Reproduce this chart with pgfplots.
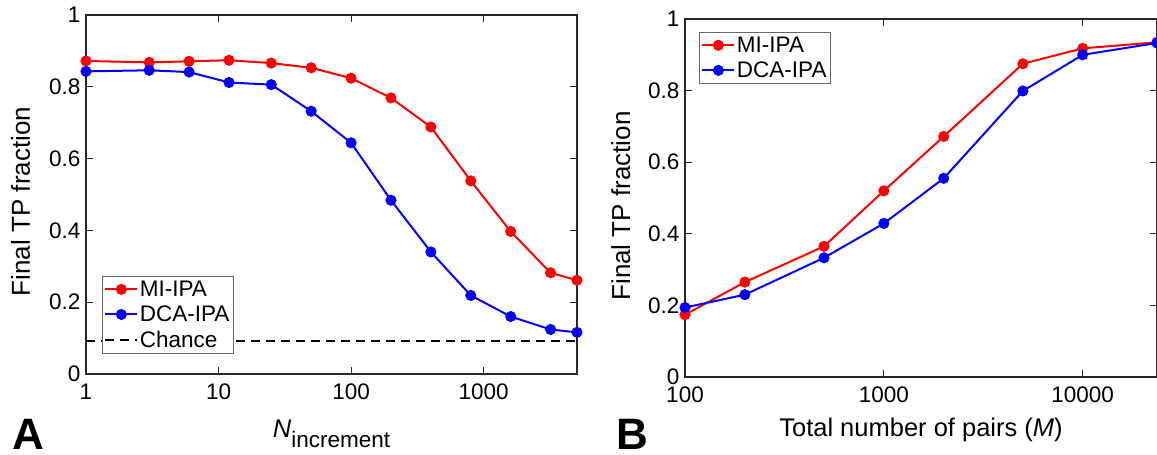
\documentclass[border=0pt]{standalone}
\usepackage{fontspec}
\setmainfont{Liberation Sans}
\usepackage{pgfplots}
\pgfplotsset{compat=1.18}
\newcommand{\tf}{\fontsize{22.5}{26}\selectfont}
\newcommand{\lf}{\fontsize{25.5}{30}\selectfont}
\newcommand{\yf}{\fontsize{26}{30}\selectfont}
\pgfplotsset{
  tpstyle/.style={
    scale only axis, ymin=0, ymax=1,
    axis line style={black!85, line width=1.1pt},
    every tick/.style={black!85, line width=1pt},
    tick align=inside, major tick length=7pt,
    xminorticks=false, yminorticks=false,
    xtick pos=both, ytick pos=both,
    ytick={0,0.2,0.4,0.6,0.8,1}, yticklabels={0,0.2,0.4,0.6,0.8,1},
    ticklabel style={font=\tf, text=black},
    yticklabel style={xshift=-2pt},
    xticklabel style={yshift=-6pt},
    clip=false,
    legend cell align=left,
    legend style={font=\tf, draw=black!60, line width=0.8pt, fill=white,
      inner xsep=2pt, inner ysep=3pt, row sep=5pt,
      nodes={inner sep=1.5pt}},
    legend image code/.code={\draw[mark repeat=2,mark phase=2,##1] plot coordinates {(0pt,0pt) (16pt,0pt) (32pt,0pt)};},
    every axis y label/.style={at={(axis description cs:0,0.5)}, anchor=base, font=\yf},
    every axis x label/.style={at={(axis description cs:0.5,0)}, anchor=base, font=\lf},
  },
  mi/.style={red, line width=2pt, mark=*, mark size=4.5pt, mark options={solid, fill=red}},
  dca/.style={blue, line width=2pt, mark=*, mark size=4.5pt, mark options={solid, fill=blue}},
}
\begin{document}
\begin{tikzpicture}[x=1pt,y=1pt]
\path[use as bounding box] (0,0) rectangle (1157,-455);

\begin{semilogxaxis}[tpstyle,
  at={(86pt,-374pt)}, anchor=south west,
  width=491pt, height=359pt,
  xmin=1, xmax=5064,
  xtick={1,10,100,1000}, xticklabels={1,10,100,1000},
  ylabel={Final TP fraction},
  ylabel style={xshift=-56pt, yshift=-7pt, rotate=90},
  xlabel={\textit{N}\raisebox{-10pt}{\tf increment}},
  xlabel style={yshift=-63pt},
  legend style={at={(axis description cs:0.0326,0.273)}, anchor=north west},
]
\addplot[mi] coordinates {
(1,0.872) (3,0.868) (6,0.871) (12,0.874) (25,0.866) (50,0.853) (100,0.824)
(200,0.769) (400,0.688) (800,0.538) (1600,0.397) (3200,0.282) (5064,0.261)};
\addlegendentry{MI-IPA}
\addplot[dca] coordinates {
(1,0.843) (3,0.846) (6,0.841) (12,0.812) (25,0.806) (50,0.732) (100,0.644)
(200,0.484) (400,0.340) (800,0.219) (1600,0.160) (3200,0.124) (5064,0.116)};
\addlegendentry{DCA-IPA}
\addplot[black, line width=2pt, dash pattern=on 9pt off 6pt] coordinates {(1,0.091) (5064,0.091)};
\addlegendentry{Chance}
\end{semilogxaxis}

\begin{semilogxaxis}[tpstyle,
  at={(685pt,-377pt)}, anchor=south west,
  width=472pt, height=358pt,
  xmin=100, xmax=23632,
  xtick={100,1000,10000}, xticklabels={100,1000,10000},
  ylabel={Final TP fraction},
  ylabel style={xshift=-55pt, yshift=-8pt, rotate=90},
  xlabel={Total number of pairs (\textit{M})},
  xlabel style={yshift=-59pt},
  legend style={at={(axis description cs:0.0297,0.964)}, anchor=north west},
]
\addplot[mi] coordinates {
(100,0.174) (200,0.265) (500,0.365) (1000,0.520) (2000,0.672) (5000,0.875) (10000,0.918) (23632,0.935)};
\addlegendentry{MI-IPA}
\addplot[dca] coordinates {
(100,0.194) (200,0.230) (500,0.333) (1000,0.429) (2000,0.555) (5000,0.799) (10000,0.900) (23632,0.933)};
\addlegendentry{DCA-IPA}
\end{semilogxaxis}

\node[anchor=base west, font=\fontsize{44}{50}\selectfont\bfseries, inner sep=0pt] at (12,-449) {A};
\node[anchor=base west, font=\fontsize{44}{50}\selectfont\bfseries, inner sep=0pt] at (616,-449) {B};
\end{tikzpicture}
\end{document}
